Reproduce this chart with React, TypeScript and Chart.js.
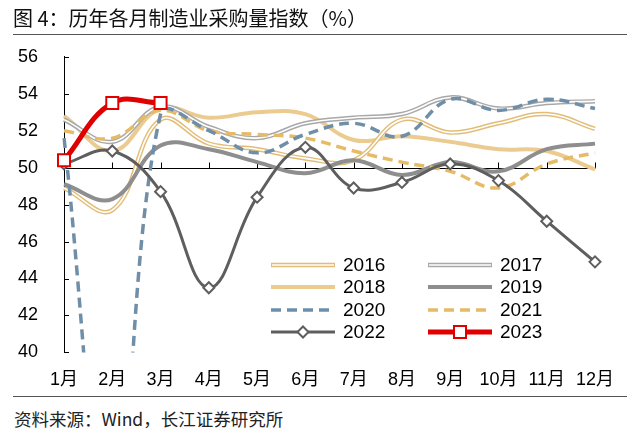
import React, { useEffect, useRef } from 'react';
import { Chart, registerables } from 'chart.js';

Chart.register(...registerables);

// ---- data ----
const months = ['1月', '2月', '3月', '4月', '5月', '6月', '7月', '8月', '9月', '10月', '11月', '12月'];
const yMin = 40;
const yMax = 56;
const yStep = 2;
const s2016 = [48.9, 47.7, 52.6, 51.3, 51.0, 50.5, 50.4, 52.6, 51.9, 52.4, 52.9, 52.1];
const s2017 = [52.6, 51.4, 53.3, 52.2, 51.6, 52.4, 52.7, 52.9, 53.8, 53.2, 53.5, 53.6];
const s2018 = [52.8, 50.9, 53.2, 52.7, 53.0, 52.9, 51.5, 51.7, 51.4, 51.0, 50.9, 49.9];
const s2019 = [49.1, 48.3, 51.2, 51.0, 50.3, 49.7, 50.4, 49.6, 50.3, 49.8, 51.0, 51.3];
const s2020 = [51.6, 29.3, 52.9, 52.0, 50.8, 51.8, 52.4, 51.7, 53.7, 53.1, 53.7, 53.2];
const s2021 = [52.0, 51.6, 53.1, 52.0, 51.8, 51.6, 50.9, 50.3, 49.8, 48.9, 50.2, 50.8];
const s2022 = [50.2, 50.9, 48.7, 43.5, 48.4, 51.1, 48.9, 49.2, 50.2, 49.3, 47.1, 44.9];
const s2023 = [50.4, 53.5, 53.5];
const baseValue = 50;

const titleText = '图 4：历年各月制造业采购量指数（%）';
const sourceText = '资料来源：Wind，长江证券研究所';

// ---- styles ----
const FONT = '"Liberation Sans", Arial, "Noto Sans CJK SC", sans-serif';
const CJK = '"Noto Sans CJK SC", "Liberation Sans", sans-serif';

type Sty = {
  label: string;
  data: number[];
  color: string;
  width: number;
  inner?: string;
  innerWidth?: number;
  dash?: number[];
  marker?: 'rect' | 'rectRot';
  radius?: number;
  markerBorder?: number;
  order: number;
};

const series: Sty[] = [
  { label: '2016', data: s2016, color: '#E2BD78', width: 4.5, inner: '#ffffff', innerWidth: 1.6, order: 8 },
  { label: '2017', data: s2017, color: '#A8A8A8', width: 4.5, inner: '#ffffff', innerWidth: 1.6, order: 6 },
  { label: '2018', data: s2018, color: '#EBCB8F', width: 4, order: 10 },
  { label: '2019', data: s2019, color: '#8E8E8E', width: 4, order: 4 },
  { label: '2020', data: s2020, color: '#6F8EA8', width: 3.5, dash: [10, 6], order: 2 },
  { label: '2021', data: s2021, color: '#E5BB67', width: 3.5, dash: [10, 6], order: 3 },
  { label: '2022', data: s2022, color: '#5E5E5E', width: 3, marker: 'rectRot', radius: 5.5, markerBorder: 2, order: 1 },
  { label: '2023', data: s2023, color: '#E00000', width: 5, marker: 'rect', radius: 8.5, markerBorder: 2, order: 0 },
];

function buildDatasets() {
  const ds: any[] = [];
  series.forEach((s) => {
    ds.push({
      label: s.label,
      data: s.data,
      borderColor: s.color,
      backgroundColor: s.color,
      borderWidth: s.width,
      borderDash: s.dash || [],
      pointRadius: s.marker ? s.radius : 0,
      pointHoverRadius: s.marker ? s.radius : 0,
      pointStyle: s.marker || 'circle',
      pointBackgroundColor: '#ffffff',
      pointBorderColor: s.color,
      pointBorderWidth: s.markerBorder || 0,
      fill: false,
      order: s.order,
      tension: 0.4,
    });
    if (s.inner) {
      ds.push({
        label: s.label + '_inner',
        data: s.data,
        borderColor: s.inner,
        borderWidth: s.innerWidth,
        pointRadius: 0,
        pointHoverRadius: 0,
        fill: false,
        order: s.order - 1,
        tension: 0.4,
      });
    }
  });
  return ds;
}

const axisDecor = {
  id: 'axisDecor',
  beforeDatasetsDraw(chart: any) {
    const { ctx, chartArea, scales } = chart;
    const xs = scales.x;
    const ys = scales.y;
    ctx.save();
    ctx.strokeStyle = '#000';
    ctx.lineWidth = 1;
    for (let v = yMin; v <= yMax; v += yStep) {
      const y = Math.round(ys.getPixelForValue(v)) + 0.5;
      ctx.beginPath();
      ctx.moveTo(chartArea.left, y);
      ctx.lineTo(chartArea.left + 5, y);
      ctx.stroke();
    }
    const yb = Math.round(ys.getPixelForValue(baseValue)) + 0.5;
    ctx.beginPath();
    ctx.moveTo(chartArea.left, yb);
    ctx.lineTo(chartArea.right, yb);
    ctx.stroke();
    months.forEach((_, i) => {
      const x = Math.round(xs.getPixelForValue(i)) + 0.5;
      ctx.beginPath();
      ctx.moveTo(x, yb);
      ctx.lineTo(x, yb - 6);
      ctx.stroke();
    });
    ctx.restore();
  },
};

function drawMarker(ctx: CanvasRenderingContext2D, s: Sty, x: number, y: number) {
  if (!s.marker) return;
  const r = s.radius || 5;
  ctx.save();
  ctx.fillStyle = '#fff';
  ctx.strokeStyle = s.color;
  ctx.lineWidth = s.markerBorder || 2;
  ctx.setLineDash([]);
  ctx.beginPath();
  if (s.marker === 'rect') {
    const h = r * Math.SQRT1_2;
    ctx.rect(x - h, y - h, 2 * h, 2 * h);
  } else {
    ctx.moveTo(x - r, y);
    ctx.lineTo(x, y - r);
    ctx.lineTo(x + r, y);
    ctx.lineTo(x, y + r);
    ctx.closePath();
  }
  ctx.fill();
  ctx.stroke();
  ctx.restore();
}

// legend layout in canvas coordinates (canvas top sits at page y = 28)
const legendPos = {
  colX: [271, 428],
  sampleLen: 64,
  textGap: 8,
  rowY: [237, 259, 282, 304],
};

const customLegend = {
  id: 'customLegend',
  afterDraw(chart: any) {
    const { ctx } = chart;
    ctx.save();
    series.forEach((s, i) => {
      const col = i % 2;
      const row = Math.floor(i / 2);
      const x0 = legendPos.colX[col];
      const x1 = x0 + legendPos.sampleLen;
      const y = legendPos.rowY[row];
      ctx.save();
      ctx.lineCap = 'butt';
      ctx.strokeStyle = s.color;
      ctx.lineWidth = s.width;
      ctx.setLineDash(s.dash || []);
      ctx.beginPath();
      ctx.moveTo(x0, y);
      ctx.lineTo(x1, y);
      ctx.stroke();
      if (s.inner) {
        ctx.strokeStyle = s.inner;
        ctx.lineWidth = s.innerWidth || 1.5;
        ctx.beginPath();
        ctx.moveTo(x0 + 1, y);
        ctx.lineTo(x1 - 1, y);
        ctx.stroke();
      }
      ctx.restore();
      drawMarker(ctx, s, (x0 + x1) / 2, y);
      ctx.fillStyle = '#000';
      ctx.font = '19px ' + FONT;
      ctx.textBaseline = 'middle';
      ctx.textAlign = 'left';
      ctx.fillText(s.label, x1 + legendPos.textGap, y + 1);
    });
    ctx.restore();
  },
};

function ChartView() {
  const ref = useRef<HTMLCanvasElement | null>(null);
  useEffect(() => {
    if (!ref.current) return;
    const chart = new Chart(ref.current, {
      type: 'line',
      data: { labels: months, datasets: buildDatasets() },
      options: {
        animation: false,
        responsive: false,
        devicePixelRatio: 1,
        layout: { padding: { left: 0, right: 45, top: 3, bottom: 0 } },
        plugins: { legend: { display: false }, tooltip: { enabled: false } },
        elements: { line: { capBezierPoints: false } as any },
        scales: {
          x: {
            type: 'category',
            offset: false,
            grid: { display: false },
            border: { display: false },
            ticks: {
              color: '#000',
              font: { family: FONT, size: 18 },
              padding: 9,
              maxRotation: 0,
              autoSkip: false,
            },
          },
          y: {
            min: yMin,
            max: yMax,
            grid: { display: false },
            border: { display: true, color: '#000', width: 1 },
            ticks: {
              stepSize: yStep,
              color: '#000',
              font: { family: FONT, size: 18 },
              padding: 18,
            },
          },
        },
      },
      plugins: [axisDecor, customLegend],
    });
    return () => chart.destroy();
  }, []);
  return <canvas ref={ref} width={640} height={372} style={{ display: 'block', width: 640, height: 372 }} />;
}

export default function App() {
  return (
    <div style={{ position: 'absolute', left: 0, top: 0, width: 640, height: 436, background: '#fff', overflow: 'hidden' }}>
      <div style={{ position: 'absolute', left: 0, top: 28, width: 640, height: 372 }}>
        <ChartView />
      </div>
      <div style={{ position: 'absolute', left: 13, top: 4, fontFamily: CJK, fontSize: 20, lineHeight: '28px', color: '#111', whiteSpace: 'nowrap' }}>
        {titleText}
      </div>
      <div style={{ position: 'absolute', left: 13, top: 34, width: 614, height: 1, background: '#555' }} />
      <div style={{ position: 'absolute', left: 13, top: 396, width: 614, height: 1, background: '#555' }} />
      <div style={{ position: 'absolute', left: 14, top: 406, fontFamily: CJK, fontSize: 17.5, lineHeight: '26px', color: '#222', whiteSpace: 'nowrap', background: '#fff' }}>
        {sourceText}
      </div>
    </div>
  );
}
